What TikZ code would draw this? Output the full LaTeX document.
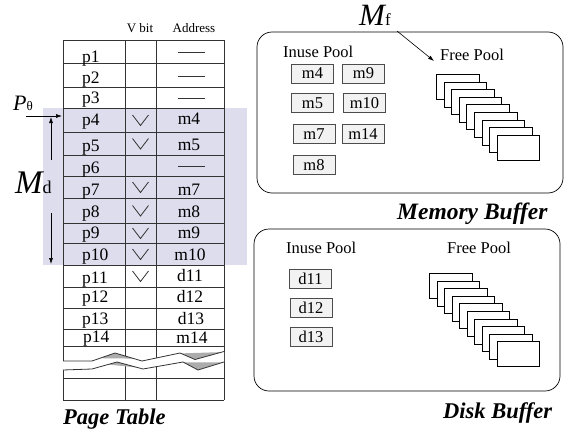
\documentclass[tikz,border=0pt]{standalone}
\usepackage{fontspec}
\setmainfont{Liberation Serif}
\usetikzlibrary{arrows.meta}
\definecolor{hotrows}{RGB}{221,221,238}
\definecolor{boxfill}{RGB}{242,242,242}
\newcommand{\pw}{42.5pt}
\newcommand{\ph}{25pt}
\newcommand{\fsz}[1]{\fontsize{#1}{#1}\selectfont}
\newcommand{\vmark}[1]{\draw[grid] (132.5,#1-5) -- (140.5,#1+5.5) -- (148.5,#1-5);}
\newcommand{\nil}[1]{\draw[grid] (178,#1+1) -- (205,#1+1);}

\begin{document}
\begin{tikzpicture}[x=1pt, y=-1pt,
    cell/.style={inner sep=0pt, font=\fsz{17.5}},
    head/.style={inner sep=0pt, anchor=base, font=\fsz{13}},
    pool/.style={inner sep=0pt, anchor=base west, font=\fsz{16.5}},
    inuse/.style={draw=black!70, fill=boxfill, minimum width=42pt, minimum height=19pt, inner sep=0pt, font=\fsz{16.5}},
    page/.style={draw, fill=white, anchor=north west, minimum width=\pw, minimum height=\ph, inner sep=0pt},
    title/.style={inner sep=0pt, anchor=base west, font=\fsz{22.5}\bfseries\itshape},
    grid/.style={black!80, line width=0.8pt},
    arr/.style={-{Latex[length=6pt,width=4pt]}, line width=0.6pt}]
    \useasboundingbox (0,0) rectangle (571,434);

    % Rows held in memory
    \fill[hotrows] (43,108) rectangle (247,265);

    % Page table grid
    \draw[grid] (63,40) -- (224,40);
    \draw[grid] (63,63) -- (224,63);
    \draw[grid] (63,87) -- (224,87);
    \draw[grid] (63,108) -- (224,108);
    \draw[grid] (63,132) -- (224,132);
    \draw[grid] (63,155) -- (224,155);
    \draw[grid] (63,176) -- (224,176);
    \draw[grid] (63,198) -- (224,198);
    \draw[grid] (63,223) -- (224,223);
    \draw[grid] (63,243) -- (224,243);
    \draw[grid] (63,265) -- (224,265);
    \draw[grid] (63,287) -- (224,287);
    \draw[grid] (63,308) -- (224,308);
    \draw[grid] (63,329) -- (224,329);
    \draw[grid] (63,346) -- (224,346);
    \draw[grid] (63,378) -- (224,378);
    \draw[grid] (63,400) -- (224,400);
    \draw[grid] (63,40) -- (63,400);
    \draw[grid] (125,40) -- (125,400);
    \draw[grid] (156,40) -- (156,400);
    \draw[grid] (224,40) -- (224,400);

    % Break in the table
    \fill[white] (63,361) -- (92,361) -- (115,353) -- (142,361) -- (180,353) -- (195,359.5) -- (224,351.5)
        -- (224,362) -- (198,370) -- (183,362) -- (143,369) -- (117,362) -- (92,369) -- (63,370) -- cycle;
    \fill[gray!65] (100,358.2) -- (115,353) -- (134,358.6) -- cycle;
    \fill[gray!65] (181,353.4) -- (195,359.5) -- (222,352.1) -- cycle;
    \fill[gray!65] (108,364.5) -- (117,362) -- (138,367.6) -- cycle;
    \fill[gray!65] (184,362.5) -- (198,370) -- (223,362.3) -- cycle;
    \draw[grid] (63,361) -- (92,361) -- (115,353) -- (142,361) -- (180,353) -- (195,359.5) -- (224,351.5);
    \draw[grid] (63,370) -- (92,369) -- (117,362) -- (143,369) -- (183,362) -- (198,370) -- (224,362);

    % Header
    \node[head] (vbit) at (140,32) {V bit};
    \node[head] (addr) at (194,32) {Address};

    % Pages
    \node[cell, anchor=base west] (p1) at (82,62) {p1};
    \node[cell, anchor=base west] (p2) at (82,83) {p2};
    \node[cell, anchor=base west] (p3) at (82,103) {p3};
    \node[cell, anchor=base west] (p4) at (82,125) {p4};
    \node[cell, anchor=base west] (p5) at (82,151) {p5};
    \node[cell, anchor=base west] (p6) at (82,173) {p6};
    \node[cell, anchor=base west] (p7) at (82,195) {p7};
    \node[cell, anchor=base west] (p8) at (82,217) {p8};
    \node[cell, anchor=base west] (p9) at (82,238) {p9};
    \node[cell, anchor=base west] (p10) at (82,260) {p10};
    \node[cell, anchor=base west] (p11) at (82,283) {p11};
    \node[cell, anchor=base west] (p12) at (82,302) {p12};
    \node[cell, anchor=base west] (p13) at (82,324) {p13};
    \node[cell, anchor=base west] (p14) at (83,342) {p14};

    % Valid bits
    \vmark{120}
    \vmark{143.5}
    \vmark{187}
    \vmark{210.5}
    \vmark{233}
    \vmark{254}
    \vmark{276}

    % Addresses
    \nil{51.5}
    \nil{75}
    \nil{97.5}
    \nil{165.5}
    \node[cell, anchor=base] (a4) at (189,124) {m4};
    \node[cell, anchor=base] (a5) at (189,150) {m5};
    \node[cell, anchor=base] (a7) at (189,195) {m7};
    \node[cell, anchor=base] (a8) at (189,217) {m8};
    \node[cell, anchor=base] (a9) at (189,238) {m9};
    \node[cell, anchor=base] (a10) at (190,260) {m10};
    \node[cell, anchor=base] (a11) at (190,281) {d11};
    \node[cell, anchor=base] (a12) at (190,302) {d12};
    \node[cell, anchor=base] (a13) at (191,324) {d13};
    \node[cell, anchor=base] (a14) at (192,343) {m14};

    % Pointers
    \node[inner sep=0pt, anchor=base west] (ptheta) at (13,110) {\fsz{22}\itshape P\fsz{13}\upshape θ};
    \node[inner sep=0pt, anchor=base west] (md) at (15,193) {\fsz{33}\itshape M\fsz{18}\upshape d};
    \coordinate (pt-tail) at (26,116);
    \coordinate (pt-head) at (62,116);
    \coordinate (md-up) at (51,160);
    \coordinate (md-top) at (51,117);
    \coordinate (md-down) at (51,213);
    \coordinate (md-bottom) at (51,264);
    \draw[arr] (pt-tail) -- (pt-head);
    \draw[arr] (md-up) -- (md-top);
    \draw[arr] (md-down) -- (md-bottom);

    \node[title] (ptab) at (63,424) {Page Table};

    % Memory buffer
    \draw[rounded corners=15pt, line width=0.7pt] (257,32) rectangle (563,193);
    \node[pool] (m-inuse) at (283,57) {Inuse Pool};
    \node[pool] (m-free) at (440,60) {Free Pool};
    \node[inuse] (m4) at (312.5,73.5) {m4};
    \node[inuse] (m9) at (363.5,73.5) {m9};
    \node[inuse] (m5) at (312.5,103) {m5};
    \node[inuse] (m10) at (364.5,103) {m10};
    \node[inuse] (m7) at (314,134) {m7};
    \node[inuse] (m14) at (363,134) {m14};
    \node[inuse] (m8) at (314,165) {m8};
    \node[page] (mpage-1) at (436,74) {};
    \node[page] (mpage-2) at (443.6,81.6) {};
    \node[page] (mpage-3) at (451.2,89.2) {};
    \node[page] (mpage-4) at (458.8,96.8) {};
    \node[page] (mpage-5) at (466.4,104.4) {};
    \node[page] (mpage-6) at (474,112) {};
    \node[page] (mpage-7) at (481.6,119.6) {};
    \node[page] (mpage-8) at (489.2,127.2) {};
    \node[page] (mpage-9) at (496.8,134.8) {};
    \node[inner sep=0pt, anchor=base west] (mf) at (359,25) {\fsz{31}\itshape M\fsz{17}\upshape f};
    \coordinate (mf-tail) at (397,31);
    \coordinate (mf-head) at (434,61);
    \draw[arr] (mf-tail) -- (mf-head);
    \node[title, font=\fsz{23.5}\bfseries\itshape] (mbuf) at (397,219) {Memory Buffer};

    % Disk buffer
    \draw[rounded corners=15pt, line width=0.7pt] (254,229) rectangle (560,391);
    \node[pool] (d-inuse) at (286,253) {Inuse Pool};
    \node[pool] (d-free) at (447,253) {Free Pool};
    \node[inuse] (d11) at (310.5,278.5) {d11};
    \node[inuse] (d12) at (311,307.5) {d12};
    \node[inuse] (d13) at (311,337) {d13};
    \node[page] (dpage-1) at (429,273) {};
    \node[page] (dpage-2) at (436.5,280.6) {};
    \node[page] (dpage-3) at (444,288.2) {};
    \node[page] (dpage-4) at (451.5,295.8) {};
    \node[page] (dpage-5) at (459,303.4) {};
    \node[page] (dpage-6) at (466.5,311) {};
    \node[page] (dpage-7) at (474,318.6) {};
    \node[page] (dpage-8) at (481.5,326.2) {};
    \node[page] (dpage-9) at (489,333.8) {};
    \node[page] (dpage-10) at (496.5,341.4) {};
    \node[title] (dbuf) at (443,418) {Disk Buffer};
\end{tikzpicture}
\end{document}
